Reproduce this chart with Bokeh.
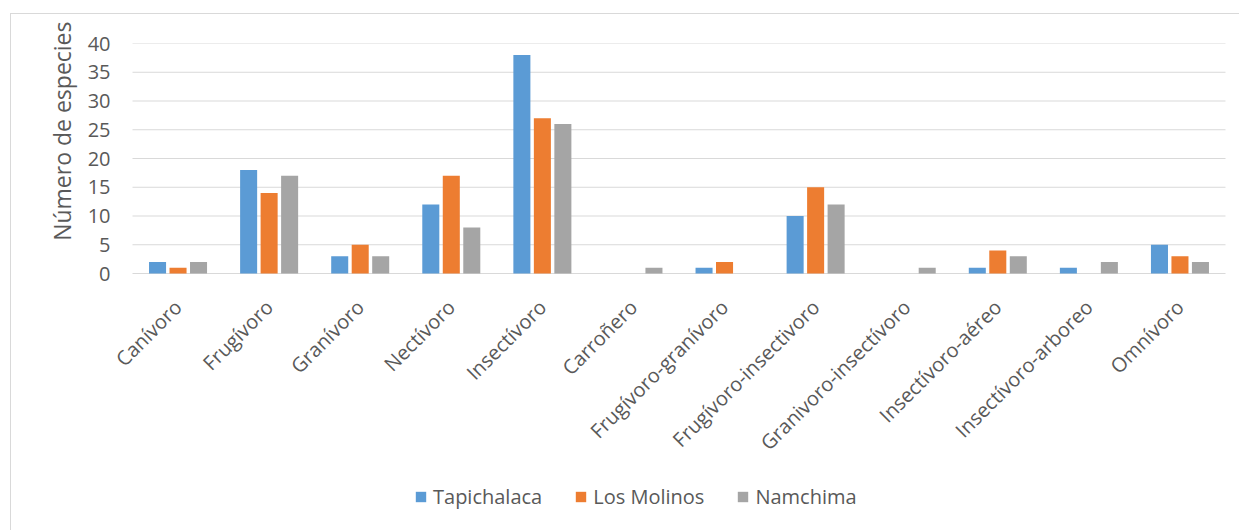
import math
from bokeh.plotting import figure
from bokeh.models import Range1d, Legend, LegendItem, ColumnDataSource, Title
from bokeh.transform import dodge
from bokeh.embed import file_html
from bokeh.resources import INLINE

categories = ["Canívoro", "Frugívoro", "Granívoro", "Nectívoro", "Insectívoro", "Carroñero",
              "Frugívoro-granívoro", "Frugívoro-insectivoro", "Granivoro-insectívoro",
              "Insectívoro-aéreo", "Insectívoro-arboreo", "Omnívoro"]
tapichalaca = [2, 18, 3, 12, 38, 0, 1, 10, 0, 1, 1, 5]
los_molinos = [1, 14, 5, 17, 27, 0, 2, 15, 0, 4, 0, 3]
namchima = [2, 17, 3, 8, 26, 1, 0, 12, 1, 3, 2, 2]
series_names = ["Tapichalaca", "Los Molinos", "Namchima"]
colors = ["#5B9BD5", "#ED7D31", "#A5A5A5"]
y_ticks = [0, 5, 10, 15, 20, 25, 30, 35, 40]

FONT = "Open Sans"
TXT = "#595959"
GRID = "#D9D9D9"

# layout (pixels)
W, H = 1229, 517          # canvas size (page offset 11, 14 because of the outer border)
LEFT, TOP, RIGHT = 94, 29, 0
CAT_PX = 1093 / 12        # width of one category slot
PAD_L = 27                # frame extends this far left of the first category slot
PLOT_H = 230              # pixel height of the 0..40 value span
frame_w = W - LEFT - RIGHT
frame_h = H - TOP
n = len(categories)
x_start = -PAD_L / CAT_PX
x_end = x_start + frame_w / CAT_PX
y_max = y_ticks[-1]
y_min = -(frame_h - PLOT_H) * y_max / PLOT_H

src = ColumnDataSource(dict(cat=categories, x=[i + 0.5 for i in range(n)],
                            t=tapichalaca, m=los_molinos, n=namchima, zero=[0] * n))

p = figure(x_range=Range1d(x_start, x_end), y_range=Range1d(y_min, y_max),
           width=W, height=H, output_backend="svg", toolbar_location=None,
           min_border_left=LEFT, min_border_right=RIGHT, min_border_top=TOP, min_border_bottom=0)
p.styles = {"margin-left": "10px", "margin-top": "13px",
            "border-left": "1px solid #D9D9D9", "border-top": "1px solid #D9D9D9"}

# horizontal gridlines over the category span only
p.segment(x0=[0] * len(y_ticks), x1=[n] * len(y_ticks), y0=y_ticks, y1=y_ticks,
          line_color=GRID, line_width=1, level="underlay")

renderers = []
for col, off, c in zip(["t", "m", "n"], [-0.225, 0.0, 0.225], colors):
    r = p.vbar(x=dodge("x", off), top=col, width=0.187, source=src,
               fill_color=c, line_color=None)
    renderers.append(r)

# category labels (rotated, like the category axis of the reference)
p.text(x="x", y="zero", text="cat", source=src, angle=math.pi / 4,
       text_align="right", text_baseline="middle", x_offset=0, y_offset=30,
       text_font={"value": FONT}, text_font_size={"value": "20px"}, text_color=TXT)

p.outline_line_color = None
p.xaxis.visible = False
p.xgrid.visible = False
p.ygrid.visible = False
p.yaxis.ticker = y_ticks
p.yaxis.bounds = (0, 40)
p.yaxis.axis_line_color = None
p.yaxis.major_tick_line_color = None
p.yaxis.minor_tick_line_color = None
p.yaxis.major_label_text_font = FONT
p.yaxis.major_label_text_font_size = "20px"
p.yaxis.major_label_text_color = TXT
p.yaxis.major_label_standoff = -11

ytitle = Title(text="Número de especies", align="right", offset=-22, standoff=13,
               text_font=FONT, text_font_size="23px", text_font_style="normal",
               text_color=TXT)
p.add_layout(ytitle, "left")

legend = Legend(items=[LegendItem(label=s, renderers=[r]) for s, r in zip(series_names, renderers)],
                orientation="horizontal", location=(414 - 11 - LEFT, 21), padding=0, margin=0,
                label_text_font=FONT, label_text_font_size="20px", label_text_color=TXT,
                glyph_width=13, glyph_height=13, spacing=32, label_standoff=6,
                border_line_color=None, background_fill_alpha=0)
p.add_layout(legend, "center")

open("out.html", "w").write(file_html(p, INLINE))
